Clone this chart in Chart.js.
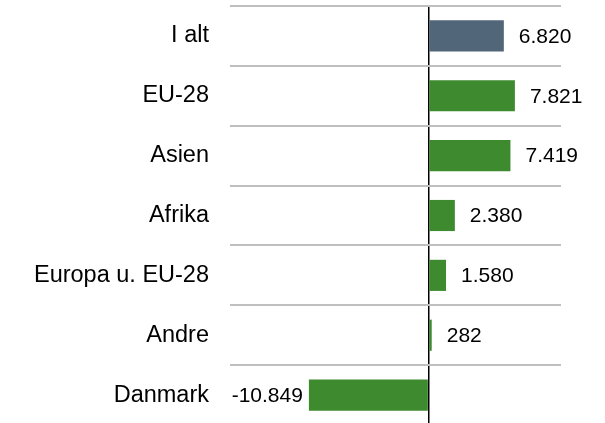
<!DOCTYPE html>
<html>
<head>
<meta charset="utf-8">
<script src="https://cdn.jsdelivr.net/npm/chart.js@4/dist/chart.umd.min.js"></script>
<style>
  html, body { margin: 0; padding: 0; background: #fff; overflow: hidden; }
  #wrap { width: 605px; height: 426px; position: relative; }
</style>
</head>
<body>
<div id="wrap"><canvas id="chart"></canvas></div>
<script>
// Data
const categories = ['I alt', 'EU-28', 'Asien', 'Afrika', 'Europa u. EU-28', 'Andre', 'Danmark'];
const values = [6820, 7821, 7419, 2380, 1580, 282, -10849];
const barColors = ['#52667a', '#3e8a2e', '#3e8a2e', '#3e8a2e', '#3e8a2e', '#3e8a2e', '#3e8a2e'];

// tal med punktum som tusindtalsseparator
function fmt(v) {
    const s = String(Math.abs(v)).replace(/\B(?=(\d{3})+(?!\d))/g, '.');
    return (v < 0 ? '-' : '') + s;
}

const valueLabels = {
    id: 'valueLabels',
    afterDatasetsDraw(chart) {
        const c = chart.ctx;
        const meta = chart.getDatasetMeta(0);
        c.save();
        c.font = '21px "Liberation Sans", Arial, sans-serif';
        c.fillStyle = '#000';
        c.textBaseline = 'middle';
        meta.data.forEach((bar, i) => {
            const v = values[i];
            if (v >= 0) {
                c.textAlign = 'left';
                c.fillText(fmt(v), bar.x + 15, bar.y + 1);
            } else {
                c.textAlign = 'right';
                c.fillText(fmt(v), bar.x - 6, bar.y + 1);
            }
        });
        c.restore();
    }
};

const ctx = document.getElementById('chart').getContext('2d');
new Chart(ctx, {
    type: 'bar',
    data: {
        labels: categories,
        datasets: [{
            data: values,
            backgroundColor: barColors,
            borderWidth: 0,
            barPercentage: 0.52,
            categoryPercentage: 1
        }]
    },
    options: {
        indexAxis: 'y',
        responsive: true,
        maintainAspectRatio: false,
        animation: false,
        layout: { padding: { top: 6, right: 44, bottom: 1, left: 0 } },
        plugins: {
            legend: { display: false },
            tooltip: { enabled: false }
        },
        scales: {
            x: {
                min: -18000,
                max: 12000,
                ticks: { display: false, stepSize: 6000 },
                border: { display: false },
                grid: {
                    drawTicks: false,
                    lineWidth: 1.5,
                    color: c => (c.tick && c.tick.value === 0 ? '#000' : 'rgba(0,0,0,0)')
                }
            },
            y: {
                afterFit: scale => {
                    scale.width = 230;
                    scale.paddingTop = 0;
                    scale.paddingBottom = 0;
                },
                border: { display: false },
                grid: { color: '#bfbfbf', lineWidth: 2, drawTicks: false, offset: true },
                ticks: {
                    padding: 21,
                    color: '#000',
                    font: { family: '"Liberation Sans", Arial, sans-serif', size: 23.5 }
                }
            }
        }
    },
    plugins: [valueLabels]
});
</script>
</body>
</html>
